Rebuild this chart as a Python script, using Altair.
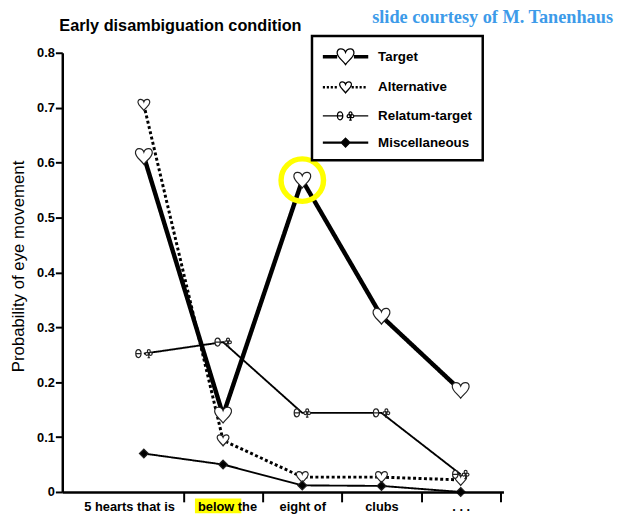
import json
import altair as alt
import pandas as pd

# ---------------- data ----------------
categories = ["5 hearts that is", "below the", "eight of", "clubs", ". . ."]
series_names = ["Target", "Alternative", "Relatum-target", "Miscellaneous"]
target = [0.611, 0.140, 0.568, 0.320, 0.185]
alternative = [0.705, 0.094, 0.027, 0.027, 0.022]
relatum_target = [0.252, 0.273, 0.144, 0.144, 0.032]
miscellaneous = [0.070, 0.050, 0.012, 0.011, 0.000]
y_ticks = [0, 0.1, 0.2, 0.3, 0.4, 0.5, 0.6, 0.7, 0.8]

chart_title = "Early disambiguation condition"
credit = "slide courtesy of M. Tanenhaus"
y_title = "Probability of eye movement"
highlighted_category = "below the"
circled_series = "Target"
circled_category = "eight of"

series_values = dict(zip(series_names, [target, alternative, relatum_target, miscellaneous]))
rows = []
for s, vals in series_values.items():
    for i, (c, v) in enumerate(zip(categories, vals)):
        rows.append({"series": s, "idx": i, "category": c, "value": v})
df = pd.DataFrame(rows)


# ---------------- symbol paths (style) ----------------
def n(v):
    return f"{v:.3f}"


def heart(s=1.0, dx=0.0):
    segs = [
        ("M", [(0, -0.45)]),
        ("C", [(-0.15, -0.9), (-0.9, -0.95), (-0.85, -0.35)]),
        ("C", [(-0.8, 0.1), (-0.3, 0.35), (0, 0.8)]),
        ("C", [(0.3, 0.35), (0.8, 0.1), (0.85, -0.35)]),
        ("C", [(0.9, -0.95), (0.15, -0.9), (0, -0.45)]),
    ]
    out = ""
    for cmd, pts in segs:
        out += cmd + " ".join(f"{n(dx + x * s)},{n(y * s)}" for x, y in pts)
    return out + "Z"


def ellipse(cx, cy, rx, ry):
    return (f"M{n(cx - rx)},{n(cy)}A{n(rx)},{n(ry)} 0 1,0 {n(cx + rx)},{n(cy)}"
            f"A{n(rx)},{n(ry)} 0 1,0 {n(cx - rx)},{n(cy)}Z")


def seg(x0, x1, y=0.0):
    return f"M{n(x0)},{n(y)}L{n(x1)},{n(y)}"


def club(dx=0.0, s=1.0):
    r = 0.15 * s
    p = ellipse(dx, -0.25 * s, r, r)
    p += ellipse(dx - 0.19 * s, 0.02 * s, r, r)
    p += ellipse(dx + 0.19 * s, 0.02 * s, r, r)
    p += f"M{n(dx)},{n(-0.05 * s)}L{n(dx)},{n(0.42 * s)}"
    p += seg(dx - 0.13 * s, dx + 0.13 * s, 0.42 * s)
    return p


def theta(dx=0.0):
    return ellipse(dx, 0, 0.27, 0.4) + seg(dx - 0.27, dx + 0.27)


def diamond(r=0.45):
    return f"M0,{n(-r)}L{n(r)},0L0,{n(r)}L{n(-r)},0Z"


def dotted(x0, x1, dot=0.22, gap=0.18, offs=(-0.06, 0.06)):
    p = ""
    for o in offs:
        x = x0
        while x + dot <= x1 + 1e-9:
            p += seg(x, x + dot, o)
            x += dot + gap
    return p


L = 2.3
marker_paths = [
    heart(1.0),
    heart(0.7),
    theta(-0.55) + club(0.5),
    diamond(),
]
legend_paths = [
    "".join(seg(-L, -0.85, o) + seg(0.85, L, o) for o in (-0.12, 0, 0.12)) + heart(1.0),
    dotted(-L, -0.62) + dotted(0.62, L) + heart(0.7),
    seg(-L, -0.82) + seg(0.84, L) + theta(-0.55) + club(0.5),
    "".join(seg(-L, -0.45, o) + seg(0.45, L, o) for o in (-0.05, 0.05)) + diamond(),
]
fills = ["white", "white", "white", "black"]
strokes = ["black", "black", "black", "black"]
highlight_path = "M-2.35,-0.75L2.35,-0.75L2.35,0.75L-2.35,0.75Z"

# ---------------- chart ----------------
W, H = 447, 445
FONT = "Liberation Sans"

half_ticks = [i + 0.5 for i in range(len(categories))]
x_enc = alt.X(
    "idx:Q",
    title=None,
    scale=alt.Scale(domain=[-1.03, 4.54], nice=False, zero=False),
    axis=alt.Axis(
        values=list(range(len(categories))) + half_ticks,
        labelExpr=f"datum.value % 1 === 0 ? {json.dumps(categories)}[datum.value] : ''",
        tickOpacity={"condition": {"test": "datum.value % 1 === 0", "value": 0}, "value": 1},
        labelOffset={"condition": [{"test": "datum.value === 0", "value": -15},
                                   {"test": "datum.value === 1", "value": 4}], "value": 0},
        grid=False, domainColor="black", domainWidth=2.5, tickColor="black",
        tickWidth=2, tickSize=10, labelFont=FONT, labelFontSize=13,
        labelFontWeight="bold", labelColor="black", labelPadding=-1,
        labelOverlap=False, labelFlush=False, labelBound=False, zindex=1,
    ),
)
y_enc = alt.Y(
    "value:Q",
    scale=alt.Scale(domain=[0, 0.8], nice=False, zero=True),
    axis=alt.Axis(
        values=y_ticks, format=".1~f", grid=False, domainColor="black",
        domainWidth=2.5, tickColor="black", tickWidth=2, tickSize=7,
        labelFont=FONT, labelFontSize=13, labelFontWeight="bold",
        labelColor="black", labelPadding=1, title=y_title,
        titleFont=FONT, titleFontSize=17, titleFontWeight="normal",
        titleColor="black", titleX=-44, titleY=216, titleAngle=-90,
        titleAlign="center", titleBaseline="middle", zindex=1,
    ),
)

base = alt.Chart(df).encode(x=x_enc, y=y_enc)

highlight = base.transform_filter(
    (alt.datum.series == series_names[0]) & (alt.datum.category == highlighted_category)
).mark_point(shape=highlight_path, size=400, filled=True, color="#ffff00",
             opacity=1, strokeWidth=0, xOffset=-5).encode(y=alt.value(H + 14))

lines = base.mark_line(color="black", strokeCap="butt").encode(
    detail="series:N",
    strokeWidth=alt.when(alt.datum.series == "Target").then(alt.value(4.5))
    .when(alt.datum.series == "Alternative").then(alt.value(3))
    .otherwise(alt.value(1.9)),
    strokeDash=alt.when(alt.datum.series == "Alternative").then(alt.value([3, 2.5]))
    .otherwise(alt.value([1, 0])),
)

points = base.mark_point(filled=True, size=400, stroke="#222222", strokeWidth=1.2,
                         opacity=1).encode(
    shape=alt.Shape("series:N", scale=alt.Scale(domain=series_names, range=marker_paths),
                    legend=None),
    fill=alt.Fill("series:N", scale=alt.Scale(domain=series_names, range=fills), legend=None),
)

leg = alt.Legend(
    orient="none", legendX=253, legendY=-17, title=None, padding=10,
    strokeColor="black", fillColor="white", symbolSize=400, symbolStrokeWidth=1.3,
    symbolStrokeColor="black", symbolOpacity=1, symbolOffset=13, labelOffset=22,
    labelFont=FONT, labelFontSize=13.5, labelFontWeight="bold", labelColor="black",
    rowPadding=9, labelLimit=250,
)
legend_layer = base.mark_point(filled=True, size=400, opacity=0).encode(
    shape=alt.Shape("series:N", scale=alt.Scale(domain=series_names, range=legend_paths),
                    legend=leg),
    fill=alt.Fill("series:N", scale=alt.Scale(domain=series_names, range=fills), legend=leg),
    stroke=alt.Stroke("series:N", scale=alt.Scale(domain=series_names, range=strokes),
                      legend=leg),
)

circle = base.transform_filter(
    (alt.datum.series == circled_series) & (alt.datum.category == circled_category)
).mark_point(shape="circle", size=1850, filled=False, color="#ffff00",
             strokeWidth=5.5, opacity=1)

title_layer = alt.Chart(pd.DataFrame({"t": [chart_title]})).mark_text(
    font=FONT, fontSize=16.5, fontWeight="bold", align="left", baseline="middle", color="black"
).encode(text="t:N", x=alt.value(-3), y=alt.value(-27))

credit_layer = alt.Chart(pd.DataFrame({"t": [credit]})).mark_text(
    font="Liberation Serif", fontSize=18.5, fontWeight="bold", align="right",
    baseline="middle", color="#3d9be9"
).encode(text="t:N", x=alt.value(558), y=alt.value(-36))

chart = alt.layer(
    highlight, lines, points, circle, legend_layer, title_layer, credit_layer
).resolve_scale(shape="independent", fill="independent", stroke="independent").properties(
    width=W, height=H,
    autosize=alt.AutoSizeParams(type="none"),
    padding={"left": 55, "top": 42, "right": 112, "bottom": 21},
    background="white",
).configure_view(stroke=None).configure_legend(strokeWidth=2.5)

chart.save("out.html", embed_options={"renderer": "svg", "actions": False})
